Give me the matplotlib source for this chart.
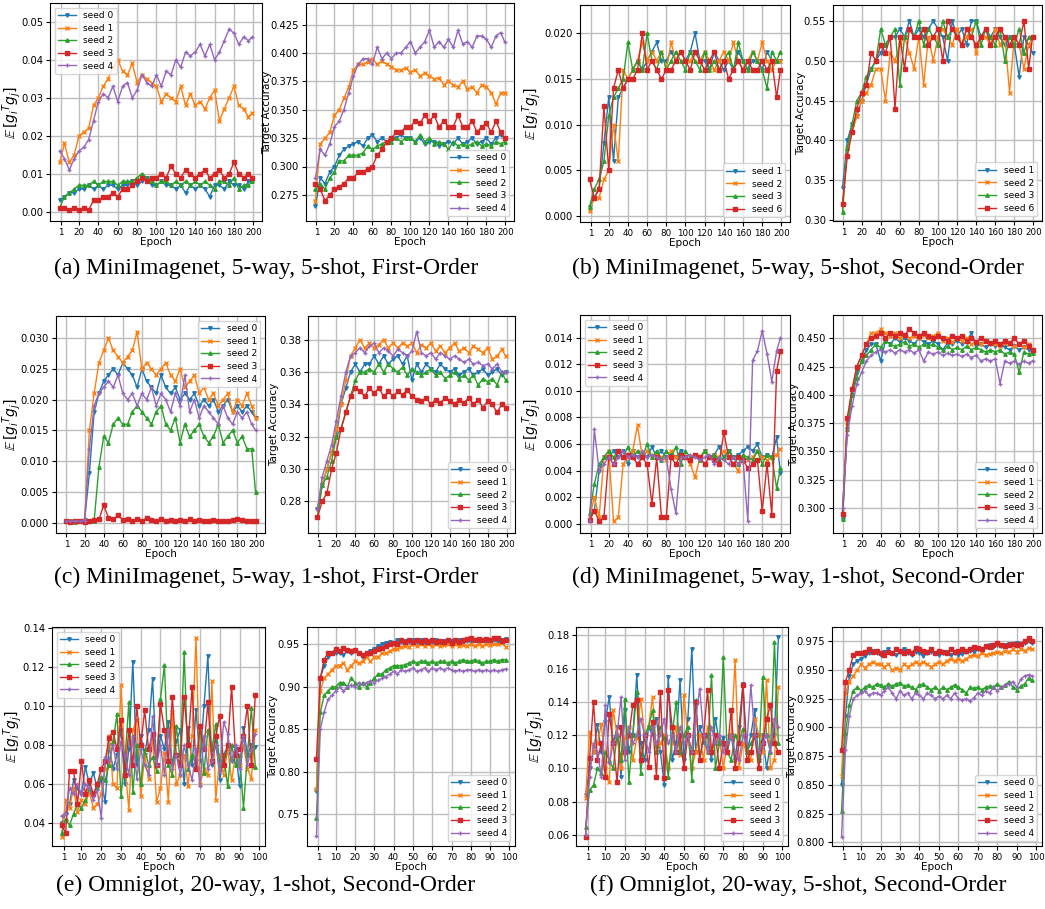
import matplotlib
matplotlib.use("Agg")
import matplotlib.pyplot as plt
from matplotlib.ticker import MultipleLocator

# epochs sampled from the curves (200-epoch runs every 5, 100-epoch runs every 2)
EP200 = list(range(0, 200, 5)) + [199]
EP100 = list(range(0, 100, 2))

# (a) MiniImagenet 5-way 5-shot first order
A_G0 = [0.003,0.004,0.005,0.005,0.006,0.006,0.007,0.006,0.007,0.006, 0.007,0.007,0.006,0.007,0.007,0.008,0.007,0.008,0.009,0.007, 0.007,0.008,0.007,0.007,0.006,0.007,0.005,0.007,0.006,0.007, 0.006,0.004,0.007,0.007,0.006,0.008,0.007,0.007,0.006,0.008, 0.008]
A_G1 = [0.013,0.018,0.013,0.015,0.020,0.021,0.022,0.028,0.030,0.033, 0.035,0.038,0.040,0.037,0.036,0.039,0.034,0.036,0.035,0.034, 0.033,0.029,0.031,0.030,0.029,0.033,0.028,0.031,0.028,0.029, 0.027,0.030,0.032,0.024,0.027,0.030,0.033,0.028,0.027,0.025, 0.026]
A_G2 = [0.001,0.004,0.005,0.006,0.007,0.007,0.007,0.008,0.007,0.008, 0.008,0.008,0.007,0.008,0.008,0.008,0.009,0.010,0.009,0.008, 0.007,0.008,0.008,0.007,0.008,0.007,0.008,0.007,0.008,0.007, 0.008,0.007,0.006,0.008,0.008,0.007,0.009,0.006,0.007,0.007, 0.008]
A_G3 = [0.001,0.001,0.0005,0.001,0.0005,0.001,0.0005,0.003,0.003,0.004, 0.004,0.005,0.004,0.006,0.006,0.007,0.008,0.009,0.008,0.009, 0.009,0.010,0.009,0.012,0.010,0.009,0.011,0.010,0.009,0.010, 0.011,0.009,0.010,0.011,0.009,0.010,0.013,0.010,0.009,0.010, 0.009]
A_G4 = [0.016,0.014,0.011,0.014,0.016,0.017,0.019,0.024,0.029,0.031, 0.030,0.033,0.029,0.033,0.034,0.030,0.032,0.036,0.034,0.033, 0.036,0.033,0.037,0.036,0.040,0.038,0.042,0.041,0.042,0.044, 0.041,0.044,0.040,0.042,0.045,0.048,0.047,0.044,0.046,0.045, 0.046]
A_A0 = [0.265,0.290,0.285,0.295,0.300,0.310,0.315,0.318,0.320,0.322, 0.318,0.325,0.328,0.322,0.325,0.322,0.325,0.325,0.328,0.325, 0.325,0.322,0.325,0.320,0.322,0.322,0.318,0.320,0.322,0.320, 0.325,0.320,0.322,0.325,0.320,0.322,0.325,0.320,0.325,0.328, 0.325]
A_A1 = [0.270,0.320,0.325,0.330,0.345,0.350,0.360,0.370,0.385,0.390, 0.390,0.392,0.395,0.390,0.393,0.390,0.388,0.385,0.385,0.387, 0.383,0.385,0.380,0.382,0.380,0.377,0.378,0.372,0.375,0.372, 0.370,0.375,0.368,0.370,0.365,0.372,0.370,0.365,0.355,0.365, 0.365]
A_A2 = [0.280,0.285,0.280,0.290,0.295,0.305,0.305,0.310,0.310,0.310, 0.312,0.318,0.315,0.318,0.320,0.322,0.322,0.325,0.322,0.325, 0.325,0.322,0.328,0.322,0.325,0.320,0.322,0.320,0.315,0.322, 0.318,0.320,0.318,0.320,0.322,0.318,0.320,0.318,0.322,0.320, 0.322]
A_A3 = [0.285,0.280,0.270,0.275,0.280,0.282,0.285,0.290,0.290,0.295, 0.295,0.298,0.300,0.310,0.315,0.322,0.325,0.330,0.330,0.335, 0.335,0.340,0.338,0.345,0.340,0.345,0.335,0.340,0.335,0.335, 0.345,0.335,0.335,0.340,0.330,0.335,0.338,0.330,0.340,0.330, 0.325]
A_A4 = [0.290,0.315,0.310,0.320,0.335,0.340,0.350,0.365,0.380,0.390, 0.395,0.395,0.390,0.405,0.395,0.400,0.395,0.400,0.400,0.405, 0.410,0.400,0.405,0.410,0.420,0.405,0.410,0.405,0.412,0.405, 0.420,0.408,0.410,0.405,0.415,0.415,0.412,0.405,0.415,0.418, 0.410]

# (b) MiniImagenet 5-way 5-shot second order (seeds 1, 2, 3, 6)
B_G1 = [0.001,0.002,0.003,0.008,0.013,0.006,0.013,0.014,0.015,0.016, 0.017,0.016,0.017,0.018,0.019,0.017,0.017,0.018,0.017,0.018, 0.017,0.018,0.020,0.017,0.017,0.016,0.018,0.017,0.016,0.017, 0.016,0.018,0.017,0.016,0.017,0.017,0.016,0.018,0.017,0.017, 0.017]
B_G2 = [0.0005,0.002,0.002,0.004,0.005,0.010,0.006,0.016,0.015,0.016, 0.017,0.019,0.017,0.018,0.017,0.018,0.016,0.019,0.017,0.018, 0.017,0.017,0.018,0.017,0.018,0.017,0.016,0.017,0.018,0.017, 0.019,0.017,0.016,0.017,0.018,0.017,0.019,0.017,0.016,0.017, 0.017]
B_G3 = [0.001,0.003,0.004,0.006,0.011,0.013,0.014,0.015,0.019,0.016, 0.017,0.016,0.020,0.017,0.016,0.018,0.016,0.017,0.018,0.017, 0.016,0.018,0.017,0.016,0.018,0.016,0.017,0.016,0.017,0.018, 0.016,0.019,0.017,0.016,0.018,0.017,0.016,0.014,0.018,0.017, 0.018]
B_G6 = [0.004,0.002,0.003,0.012,0.005,0.014,0.016,0.014,0.015,0.015, 0.016,0.020,0.016,0.017,0.016,0.015,0.016,0.016,0.017,0.018, 0.017,0.016,0.018,0.017,0.016,0.017,0.018,0.016,0.017,0.015, 0.016,0.017,0.016,0.017,0.016,0.016,0.017,0.016,0.017,0.013, 0.016]
B_A1 = [0.34,0.40,0.42,0.43,0.45,0.47,0.49,0.50,0.51,0.52, 0.53,0.53,0.54,0.53,0.55,0.53,0.54,0.53,0.54,0.55, 0.54,0.53,0.50,0.55,0.53,0.54,0.52,0.55,0.55,0.53, 0.54,0.53,0.54,0.53,0.52,0.53,0.52,0.48,0.53,0.52, 0.51]
B_A2 = [0.32,0.39,0.41,0.43,0.45,0.46,0.47,0.49,0.49,0.45, 0.51,0.50,0.52,0.53,0.51,0.49,0.53,0.47,0.53,0.50, 0.53,0.54,0.53,0.52,0.54,0.52,0.53,0.54,0.51,0.53, 0.53,0.52,0.54,0.52,0.53,0.46,0.53,0.52,0.49,0.52, 0.53]
B_A3 = [0.31,0.39,0.42,0.45,0.46,0.48,0.49,0.50,0.54,0.52, 0.53,0.54,0.47,0.53,0.54,0.53,0.55,0.52,0.54,0.53, 0.52,0.55,0.53,0.54,0.53,0.52,0.54,0.53,0.55,0.52, 0.54,0.53,0.52,0.54,0.50,0.53,0.52,0.54,0.51,0.53, 0.53]
B_A6 = [0.32,0.38,0.41,0.44,0.46,0.47,0.51,0.50,0.52,0.51, 0.53,0.44,0.53,0.49,0.54,0.53,0.53,0.54,0.52,0.53, 0.54,0.50,0.55,0.54,0.53,0.52,0.54,0.53,0.52,0.53, 0.54,0.52,0.53,0.54,0.53,0.52,0.53,0.52,0.55,0.49, 0.53]

# (c) MiniImagenet 5-way 1-shot first order
C_G0 = [0.0002,0.0002,0.0003,0.0002,0.0004,0.008,0.018,0.021,0.023,0.024, 0.025,0.024,0.026,0.025,0.024,0.022,0.025,0.023,0.022,0.021, 0.024,0.022,0.021,0.022,0.020,0.021,0.020,0.021,0.019,0.020, 0.019,0.020,0.018,0.019,0.020,0.018,0.019,0.018,0.019,0.018, 0.017]
C_G1 = [0.0003,0.0002,0.0002,0.0003,0.0003,0.015,0.021,0.026,0.028,0.030, 0.028,0.027,0.026,0.027,0.028,0.031,0.025,0.026,0.025,0.024, 0.025,0.026,0.024,0.023,0.025,0.022,0.023,0.024,0.021,0.022, 0.020,0.021,0.019,0.020,0.021,0.018,0.020,0.019,0.021,0.019, 0.017]
C_G2 = [0.0002,0.0002,0.0001,0.0002,0.0002,0.0003,0.0003,0.009,0.014,0.013, 0.016,0.017,0.016,0.016,0.018,0.019,0.018,0.017,0.016,0.018, 0.019,0.016,0.015,0.017,0.013,0.016,0.014,0.015,0.016,0.014, 0.013,0.014,0.016,0.013,0.014,0.015,0.013,0.014,0.012,0.012, 0.005]
C_G3 = [0.0002,0.0001,0.0002,0.0002,0.0001,0.0003,0.0004,0.0005,0.0028,0.0008, 0.0005,0.0012,0.0004,0.0006,0.0003,0.0005,0.0003,0.0007,0.0004,0.0003, 0.0005,0.0003,0.0004,0.0002,0.0004,0.0003,0.0005,0.0003,0.0004,0.0002, 0.0003,0.0004,0.0002,0.0003,0.0002,0.0004,0.0005,0.0004,0.0003,0.0002, 0.0003]
C_G4 = [0.0002,0.0002,0.0003,0.0002,0.0003,0.012,0.019,0.021,0.022,0.023, 0.022,0.024,0.021,0.020,0.021,0.019,0.021,0.020,0.022,0.019, 0.021,0.020,0.018,0.021,0.019,0.024,0.018,0.020,0.017,0.019, 0.018,0.017,0.016,0.019,0.017,0.016,0.018,0.017,0.018,0.016, 0.015]
C_A0 = [0.275,0.290,0.300,0.310,0.320,0.340,0.350,0.360,0.365,0.360, 0.365,0.365,0.370,0.365,0.370,0.365,0.368,0.370,0.365,0.370, 0.355,0.365,0.360,0.365,0.362,0.360,0.365,0.362,0.360,0.362, 0.358,0.360,0.362,0.358,0.360,0.362,0.358,0.360,0.362,0.358, 0.360]
C_A1 = [0.270,0.290,0.300,0.310,0.325,0.340,0.355,0.370,0.375,0.380, 0.375,0.378,0.375,0.377,0.380,0.375,0.378,0.375,0.378,0.376, 0.378,0.372,0.377,0.375,0.378,0.373,0.376,0.372,0.375,0.378, 0.373,0.375,0.372,0.376,0.374,0.372,0.375,0.368,0.370,0.374, 0.370]
C_A2 = [0.270,0.290,0.295,0.305,0.320,0.325,0.335,0.345,0.355,0.360, 0.360,0.362,0.360,0.365,0.360,0.365,0.362,0.360,0.363,0.358, 0.362,0.360,0.358,0.360,0.362,0.358,0.360,0.356,0.358,0.360, 0.356,0.358,0.355,0.358,0.352,0.356,0.354,0.356,0.352,0.360, 0.355]
C_A3 = [0.270,0.280,0.285,0.300,0.310,0.325,0.335,0.345,0.350,0.348, 0.345,0.350,0.347,0.350,0.345,0.348,0.345,0.348,0.346,0.349, 0.345,0.343,0.342,0.344,0.340,0.343,0.341,0.344,0.342,0.340, 0.343,0.341,0.344,0.340,0.343,0.338,0.342,0.340,0.335,0.340, 0.338]
C_A4 = [0.275,0.295,0.305,0.315,0.330,0.345,0.360,0.370,0.372,0.375, 0.372,0.376,0.378,0.372,0.375,0.373,0.370,0.374,0.372,0.370, 0.373,0.385,0.372,0.370,0.372,0.368,0.372,0.370,0.368,0.370, 0.368,0.366,0.368,0.365,0.366,0.364,0.365,0.362,0.365,0.360, 0.360]

# (d) MiniImagenet 5-way 1-shot second order
D_G0 = [0.0003,0.001,0.004,0.005,0.005,0.0055,0.005,0.0055,0.0045,0.0055, 0.005,0.0052,0.005,0.0058,0.005,0.0055,0.005,0.0052,0.005,0.0055, 0.005,0.0048,0.0052,0.005,0.0055,0.005,0.0052,0.0058,0.005,0.0055, 0.005,0.0052,0.0055,0.0058,0.0055,0.006,0.005,0.0052,0.005,0.0065, 0.0038]
D_G1 = [0.0005,0.002,0.0005,0.005,0.0055,0.0002,0.0005,0.0045,0.005,0.0055, 0.0074,0.005,0.0055,0.005,0.0052,0.005,0.0048,0.0055,0.005,0.0052, 0.005,0.0045,0.0035,0.005,0.0055,0.005,0.0052,0.005,0.0055,0.005, 0.0045,0.004,0.005,0.0048,0.005,0.0055,0.005,0.0048,0.005,0.0052, 0.0056]
D_G2 = [0.0008,0.003,0.0045,0.005,0.0055,0.005,0.0055,0.005,0.0058,0.005, 0.0055,0.005,0.006,0.005,0.0055,0.0048,0.0055,0.005,0.0058,0.0045, 0.0055,0.005,0.0052,0.0048,0.0055,0.005,0.0052,0.0048,0.005,0.0055, 0.005,0.0045,0.0052,0.005,0.0048,0.0055,0.0045,0.0052,0.005,0.0027, 0.0042]
D_G3 = [0.0003,0.001,0.0002,0.0005,0.005,0.0045,0.0055,0.005,0.0052,0.005, 0.0045,0.005,0.0045,0.0015,0.005,0.0005,0.0005,0.005,0.0045,0.0052, 0.005,0.0048,0.0052,0.005,0.0045,0.005,0.0048,0.0045,0.0069,0.005, 0.0045,0.005,0.0048,0.0042,0.0045,0.0048,0.001,0.0045,0.0007,0.0115, 0.013]
D_G4 = [0.0002,0.0071,0.004,0.0045,0.005,0.0045,0.005,0.0055,0.005,0.0052, 0.005,0.0055,0.005,0.0052,0.005,0.0048,0.005,0.0026,0.0008,0.005, 0.005,0.0052,0.005,0.0048,0.005,0.0052,0.0045,0.005,0.0048,0.0045, 0.005,0.0045,0.0048,0.0002,0.0123,0.013,0.0145,0.0128,0.0107,0.013, 0.014]
D_A0 = [0.290,0.370,0.400,0.420,0.430,0.440,0.445,0.445,0.430,0.448, 0.445,0.450,0.447,0.450,0.448,0.445,0.450,0.447,0.445,0.448, 0.445,0.440,0.446,0.445,0.448,0.445,0.447,0.455,0.443,0.445, 0.442,0.445,0.443,0.445,0.442,0.440,0.443,0.440,0.442,0.440, 0.440]
D_A1 = [0.295,0.375,0.405,0.425,0.435,0.445,0.455,0.455,0.458,0.455, 0.452,0.455,0.450,0.453,0.450,0.452,0.450,0.453,0.450,0.452, 0.455,0.448,0.450,0.447,0.450,0.448,0.450,0.445,0.447,0.445, 0.448,0.446,0.445,0.443,0.446,0.445,0.443,0.445,0.442,0.445, 0.440]
D_A2 = [0.290,0.370,0.400,0.415,0.430,0.435,0.440,0.445,0.442,0.448, 0.445,0.443,0.445,0.447,0.443,0.445,0.442,0.445,0.443,0.445, 0.442,0.440,0.443,0.440,0.442,0.440,0.443,0.440,0.442,0.440, 0.438,0.440,0.438,0.440,0.436,0.438,0.436,0.420,0.438,0.436, 0.437]
D_A3 = [0.295,0.380,0.405,0.425,0.435,0.445,0.450,0.452,0.455,0.450, 0.455,0.452,0.455,0.453,0.458,0.455,0.452,0.455,0.452,0.450, 0.452,0.450,0.448,0.452,0.450,0.452,0.448,0.450,0.447,0.450, 0.448,0.446,0.448,0.445,0.448,0.446,0.450,0.445,0.448,0.443, 0.440]
D_A4 = [0.300,0.365,0.390,0.410,0.420,0.430,0.435,0.438,0.440,0.438, 0.440,0.437,0.440,0.438,0.440,0.437,0.440,0.430,0.438,0.436, 0.438,0.435,0.437,0.435,0.436,0.434,0.436,0.433,0.435,0.430, 0.432,0.430,0.432,0.410,0.430,0.428,0.430,0.427,0.430,0.428, 0.430]

# (e) Omniglot 20-way 1-shot second order
E_G0 = [0.040,0.045,0.050,0.062,0.058,0.055,0.069,0.060,0.066,0.058, 0.062,0.051,0.080,0.068,0.075,0.088,0.060,0.078,0.123,0.070, 0.085,0.075,0.088,0.114,0.070,0.085,0.078,0.092,0.070,0.082, 0.088,0.060,0.089,0.070,0.098,0.072,0.100,0.126,0.070,0.085, 0.062,0.075,0.080,0.072,0.078,0.059,0.089,0.075,0.080,0.079]
E_G1 = [0.033,0.052,0.048,0.058,0.046,0.052,0.050,0.056,0.048,0.050, 0.055,0.068,0.085,0.060,0.058,0.111,0.070,0.047,0.088,0.093, 0.054,0.075,0.063,0.085,0.051,0.058,0.076,0.051,0.097,0.060, 0.065,0.075,0.059,0.085,0.135,0.060,0.068,0.065,0.113,0.052, 0.075,0.065,0.078,0.062,0.075,0.070,0.080,0.068,0.063,0.088]
E_G2 = [0.035,0.042,0.039,0.045,0.050,0.048,0.052,0.058,0.055,0.058, 0.064,0.062,0.070,0.082,0.096,0.054,0.072,0.102,0.056,0.080, 0.060,0.078,0.070,0.074,0.067,0.104,0.121,0.070,0.065,0.090, 0.072,0.128,0.068,0.075,0.070,0.090,0.066,0.088,0.078,0.091, 0.070,0.075,0.059,0.080,0.070,0.075,0.048,0.075,0.099,0.069]
E_G3 = [0.039,0.035,0.067,0.067,0.050,0.072,0.055,0.062,0.055,0.060, 0.068,0.072,0.084,0.087,0.078,0.093,0.065,0.088,0.070,0.100, 0.080,0.098,0.078,0.086,0.070,0.101,0.088,0.072,0.105,0.075, 0.070,0.105,0.080,0.110,0.068,0.090,0.078,0.102,0.072,0.085, 0.095,0.070,0.080,0.110,0.075,0.078,0.085,0.100,0.070,0.106]
E_G4 = [0.044,0.045,0.058,0.055,0.060,0.055,0.060,0.058,0.052,0.057, 0.043,0.074,0.072,0.080,0.068,0.082,0.075,0.065,0.085,0.063, 0.078,0.070,0.065,0.095,0.070,0.080,0.065,0.088,0.068,0.075, 0.065,0.080,0.070,0.062,0.078,0.059,0.085,0.068,0.072,0.080, 0.067,0.092,0.086,0.072,0.080,0.068,0.085,0.070,0.078,0.086]
E_A0 = [0.777,0.910,0.925,0.935,0.940,0.940,0.940,0.938,0.942,0.940, 0.942,0.940,0.935,0.940,0.942,0.945,0.948,0.950,0.952,0.953, 0.952,0.955,0.953,0.954,0.953,0.955,0.953,0.955,0.952,0.954, 0.953,0.955,0.952,0.954,0.952,0.954,0.953,0.955,0.952,0.954, 0.953,0.955,0.952,0.955,0.953,0.954,0.955,0.953,0.955,0.956]
E_A1 = [0.780,0.895,0.910,0.915,0.920,0.925,0.925,0.928,0.920,0.925, 0.930,0.928,0.930,0.935,0.930,0.935,0.935,0.940,0.940,0.942, 0.945,0.945,0.947,0.948,0.947,0.950,0.948,0.950,0.948,0.950, 0.948,0.950,0.948,0.949,0.950,0.948,0.950,0.948,0.949,0.948, 0.950,0.948,0.950,0.948,0.950,0.949,0.950,0.950,0.952,0.947]
E_A2 = [0.745,0.870,0.890,0.895,0.900,0.900,0.905,0.905,0.900,0.910, 0.905,0.900,0.905,0.900,0.905,0.910,0.915,0.915,0.920,0.922, 0.925,0.925,0.925,0.926,0.928,0.930,0.928,0.930,0.930,0.928, 0.930,0.928,0.930,0.930,0.928,0.930,0.928,0.930,0.932,0.930, 0.930,0.932,0.930,0.928,0.930,0.930,0.932,0.930,0.932,0.932]
E_A3 = [0.815,0.910,0.932,0.940,0.940,0.945,0.942,0.946,0.943,0.942, 0.943,0.940,0.938,0.940,0.940,0.942,0.945,0.946,0.948,0.950, 0.952,0.950,0.955,0.953,0.955,0.953,0.955,0.953,0.955,0.953, 0.955,0.953,0.954,0.953,0.955,0.952,0.955,0.953,0.955,0.956, 0.957,0.955,0.956,0.955,0.956,0.955,0.957,0.958,0.954,0.955]
E_A4 = [0.724,0.850,0.870,0.885,0.890,0.895,0.900,0.895,0.900,0.902, 0.900,0.905,0.903,0.905,0.907,0.905,0.908,0.910,0.912,0.915, 0.918,0.915,0.920,0.918,0.920,0.922,0.918,0.920,0.922,0.918, 0.922,0.920,0.922,0.920,0.922,0.920,0.918,0.920,0.918,0.920, 0.920,0.918,0.920,0.918,0.920,0.918,0.920,0.918,0.920,0.921]

# (f) Omniglot 20-way 5-shot second order
F_G0 = [0.084,0.100,0.110,0.126,0.110,0.128,0.143,0.115,0.125,0.095, 0.135,0.110,0.120,0.156,0.115,0.105,0.125,0.120,0.130,0.110, 0.090,0.155,0.105,0.115,0.153,0.105,0.130,0.172,0.110,0.125, 0.115,0.120,0.105,0.130,0.115,0.118,0.110,0.120,0.105,0.125, 0.151,0.110,0.120,0.135,0.105,0.120,0.100,0.115,0.120,0.179]
F_G1 = [0.082,0.122,0.110,0.115,0.127,0.100,0.092,0.135,0.120,0.100, 0.118,0.125,0.105,0.118,0.142,0.120,0.125,0.143,0.110,0.115, 0.120,0.100,0.115,0.125,0.108,0.144,0.120,0.100,0.110,0.120, 0.105,0.125,0.110,0.115,0.118,0.100,0.115,0.120,0.165,0.100, 0.115,0.110,0.105,0.130,0.120,0.110,0.153,0.100,0.105,0.149]
F_G2 = [0.065,0.087,0.090,0.100,0.097,0.110,0.105,0.100,0.120,0.105, 0.142,0.092,0.120,0.146,0.097,0.120,0.125,0.135,0.110,0.125, 0.118,0.095,0.120,0.140,0.110,0.120,0.125,0.093,0.141,0.105, 0.120,0.110,0.156,0.100,0.115,0.167,0.110,0.105,0.120,0.115, 0.124,0.110,0.115,0.120,0.105,0.155,0.120,0.110,0.176,0.115]
F_G3 = [0.059,0.106,0.140,0.105,0.115,0.095,0.133,0.115,0.092,0.125, 0.110,0.120,0.138,0.141,0.105,0.120,0.101,0.128,0.095,0.146, 0.094,0.147,0.125,0.110,0.120,0.100,0.120,0.110,0.140,0.105, 0.120,0.147,0.110,0.120,0.100,0.115,0.110,0.135,0.100,0.115, 0.150,0.105,0.110,0.120,0.100,0.115,0.130,0.138,0.115,0.110]
F_G4 = [0.060,0.095,0.115,0.110,0.095,0.138,0.103,0.115,0.120,0.143, 0.105,0.125,0.115,0.120,0.130,0.120,0.110,0.125,0.115,0.120, 0.130,0.115,0.120,0.110,0.125,0.115,0.120,0.110,0.130,0.148, 0.120,0.110,0.125,0.115,0.120,0.110,0.115,0.120,0.110,0.105, 0.120,0.115,0.150,0.120,0.110,0.115,0.120,0.110,0.130,0.125]
F_A0 = [0.850,0.910,0.945,0.955,0.958,0.960,0.962,0.965,0.967,0.965, 0.963,0.966,0.968,0.965,0.963,0.966,0.968,0.965,0.963,0.966, 0.965,0.962,0.965,0.966,0.965,0.963,0.965,0.966,0.963,0.965, 0.963,0.964,0.966,0.967,0.966,0.968,0.967,0.970,0.972,0.970, 0.972,0.971,0.972,0.973,0.972,0.974,0.972,0.974,0.975,0.974]
F_A1 = [0.858,0.930,0.940,0.945,0.950,0.955,0.952,0.955,0.957,0.955, 0.955,0.953,0.955,0.950,0.952,0.950,0.955,0.953,0.955,0.957, 0.955,0.957,0.955,0.953,0.955,0.957,0.955,0.958,0.960,0.958, 0.960,0.958,0.960,0.962,0.963,0.962,0.965,0.963,0.964,0.965, 0.966,0.965,0.967,0.966,0.968,0.966,0.968,0.967,0.969,0.968]
F_A2 = [0.827,0.895,0.920,0.932,0.935,0.932,0.935,0.937,0.935,0.938, 0.937,0.935,0.938,0.936,0.938,0.939,0.936,0.937,0.935,0.933, 0.937,0.938,0.935,0.933,0.935,0.932,0.935,0.933,0.935,0.937, 0.935,0.933,0.930,0.935,0.934,0.935,0.933,0.935,0.936,0.935, 0.938,0.935,0.937,0.940,0.935,0.933,0.936,0.938,0.943,0.941]
F_A3 = [0.880,0.940,0.950,0.963,0.965,0.965,0.966,0.968,0.966,0.967, 0.965,0.963,0.966,0.965,0.968,0.967,0.965,0.967,0.965,0.969, 0.968,0.967,0.966,0.968,0.965,0.967,0.966,0.965,0.968,0.966, 0.967,0.968,0.967,0.968,0.970,0.969,0.968,0.971,0.970,0.972, 0.974,0.972,0.971,0.972,0.973,0.972,0.973,0.975,0.978,0.975]
F_A4 = [0.805,0.880,0.910,0.925,0.928,0.930,0.932,0.928,0.930,0.930, 0.928,0.932,0.935,0.930,0.925,0.932,0.928,0.930,0.925,0.930, 0.928,0.925,0.930,0.928,0.925,0.927,0.925,0.928,0.925,0.930, 0.925,0.924,0.925,0.923,0.926,0.930,0.928,0.932,0.930,0.935, 0.932,0.935,0.937,0.938,0.940,0.935,0.942,0.945,0.946,0.945]

SEEDS5 = ["seed 0", "seed 1", "seed 2", "seed 3", "seed 4"]
SEEDS_B = ["seed 1", "seed 2", "seed 3", "seed 6"]
XT200 = [1] + list(range(20, 201, 20))
XT100 = [1] + list(range(10, 101, 10))

COLORS = ["#1f77b4", "#ff7f0e", "#2ca02c", "#d62728", "#9467bd"]
MARKERS = ["v", "x", "^", "s", "+"]
GRAD_LABEL = r"$\mathbb{E}\,[g_i{}^T g_j]$"

W, H = 1045, 909

# box (l, t, r, b px), label right edge px, epochs, series, labels, ylabel, ylim, ytick step, xticks, legend loc
panels = [
    ((50, 3, 262, 221), 23, EP200, [A_G0, A_G1, A_G2, A_G3, A_G4], SEEDS5, GRAD_LABEL, (-0.0024, 0.0549), 0.01, XT200, "upper left"),
    ((306, 3, 514, 221), 272, EP200, [A_A0, A_A1, A_A2, A_A3, A_A4], SEEDS5, "Target Accuracy", (0.252, 0.444), 0.025, XT200, "lower right"),
    ((580, 5, 790, 222), 543, EP200, [B_G1, B_G2, B_G3, B_G6], SEEDS_B, GRAD_LABEL, (-0.00066, 0.0231), 0.005, XT200, "lower right"),
    ((833, 5, 1042, 221), 806, EP200, [B_A1, B_A2, B_A3, B_A6], SEEDS_B, "Target Accuracy", (0.2987, 0.570), 0.05, XT200, "lower right"),
    ((56, 316, 265, 533), 23, EP200, [C_G0, C_G1, C_G2, C_G3, C_G4], SEEDS5, GRAD_LABEL, (-0.0017, 0.0336), 0.005, XT200, "upper right"),
    ((308, 316, 515, 533), 279, EP200, [C_A0, C_A1, C_A2, C_A3, C_A4], SEEDS5, "Target Accuracy", (0.2604, 0.3947), 0.02, XT200, "lower right"),
    ((580, 315, 790, 533), 543, EP200, [D_G0, D_G1, D_G2, D_G3, D_G4], SEEDS5, GRAD_LABEL, (-0.00068, 0.0157), 0.002, XT200, "upper left"),
    ((833, 315, 1042, 533), 799, EP200, [D_A0, D_A1, D_A2, D_A3, D_A4], SEEDS5, "Target Accuracy", (0.2779, 0.4707), 0.025, XT200, "lower right"),
    ((52, 627, 265, 846), 24, EP100, [E_G0, E_G1, E_G2, E_G3, E_G4], SEEDS5, GRAD_LABEL, (0.0284, 0.1407), 0.02, XT100, "upper left"),
    ((307, 627, 515, 846), 278, EP100, [E_A0, E_A1, E_A2, E_A3, E_A4], SEEDS5, "Target Accuracy", (0.7124, 0.9704), 0.05, XT100, "lower right"),
    ((576, 627, 788, 846), 547, EP100, [F_G0, F_G1, F_G2, F_G3, F_G4], SEEDS5, GRAD_LABEL, (0.0534, 0.185), 0.02, XT100, "lower right"),
    ((832, 627, 1042, 846), 797, EP100, [F_A0, F_A1, F_A2, F_A3, F_A4], SEEDS5, "Target Accuracy", (0.7968, 0.9875), 0.025, XT100, "lower right"),
]

captions = [
    (266, 268, "(a) MiniImagenet, 5-way, 5-shot, First-Order"),
    (798, 268, "(b) MiniImagenet, 5-way, 5-shot, Second-Order"),
    (266, 577, "(c) MiniImagenet, 5-way, 1-shot, First-Order"),
    (798, 577, "(d) MiniImagenet, 5-way, 1-shot, Second-Order"),
    (266, 885, "(e) Omniglot, 20-way, 1-shot, Second-Order"),
    (798, 885, "(f) Omniglot, 20-way, 5-shot, Second-Order"),
]

fig = plt.figure(figsize=(W / 100, H / 100), dpi=100)

for (l, t, r, b), lab_x, ep, series, labels, ylab, ylim, ystep, xt, loc in panels:
    ax = fig.add_axes([l / W, 1 - b / H, (r - l) / W, (b - t) / H])
    for i, (ys, lab) in enumerate(zip(series, labels)):
        ax.plot(ep, ys, color=COLORS[i], marker=MARKERS[i], markersize=2.5,
                linewidth=1.0, label=lab)
    ax.set_ylim(*ylim)
    ax.yaxis.set_major_locator(MultipleLocator(ystep))
    ax.set_xticks(xt)
    ax.tick_params(axis="x", labelsize=6.3, length=3, pad=2)
    ax.tick_params(axis="y", labelsize=7.2, length=3, pad=2)
    ax.grid(True, color="#bdbdbd", linewidth=1.0)
    ax.set_xlabel("Epoch", fontsize=7.5, labelpad=0)
    if ylab == GRAD_LABEL:
        ax.set_ylabel(ylab, fontsize=10)
    else:
        ax.set_ylabel(ylab, fontsize=7.5)
    ax.yaxis.set_label_coords((lab_x - l) / (r - l), 0.5)
    ax.legend(loc=loc, fontsize=6.5, handlelength=2.0, labelspacing=0.4,
              borderpad=0.4)

for cx, cy, text in captions:
    fig.text(cx / W, 1 - cy / H, text, ha="center", va="center",
             fontsize=17, family="Liberation Serif")

fig.savefig("out.png", dpi=100)
